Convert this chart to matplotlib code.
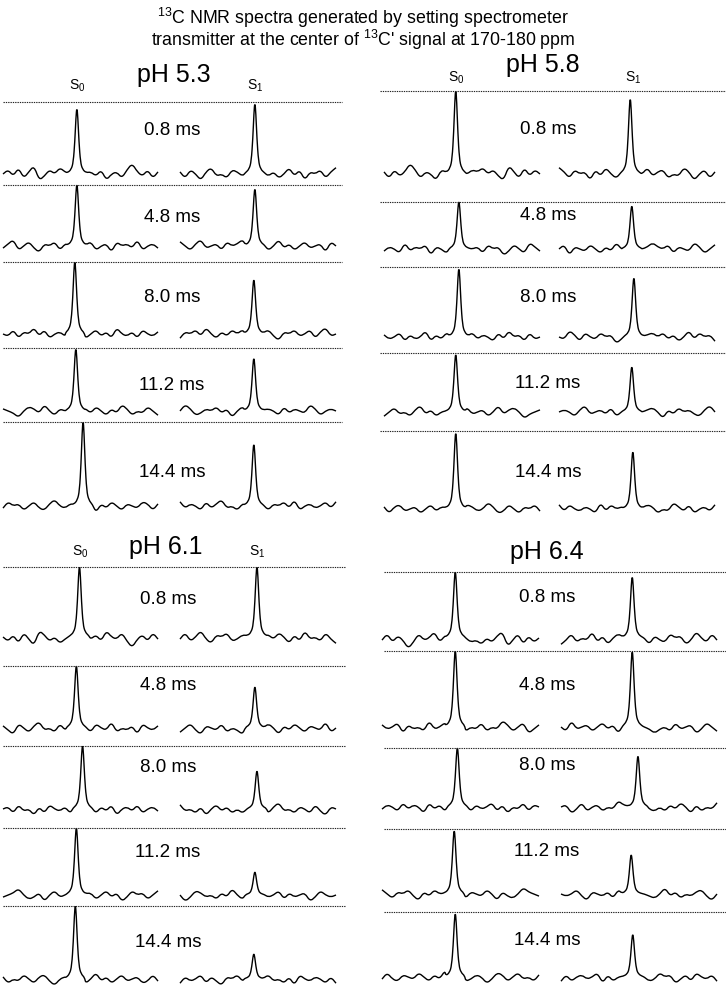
import numpy as np
import matplotlib
matplotlib.use('Agg')
import matplotlib.pyplot as plt
from matplotlib.lines import Line2D
from matplotlib.path import Path
from matplotlib.patches import PathPatch

plt.rcParams['font.family'] = ['Liberation Sans', 'DejaVu Sans']
plt.rcParams['mathtext.fontset'] = 'custom'
plt.rcParams['mathtext.rm'] = 'Liberation Sans'
plt.rcParams['mathtext.it'] = 'Liberation Sans:italic'
plt.rcParams['mathtext.bf'] = 'Liberation Sans:bold'

# ---------------- data ----------------
title_line1 = r"$^{13}$C NMR spectra generated by setting spectrometer"
title_line2 = r"transmitter at the center of $^{13}$C' signal at 170-180 ppm"
delays = ['0.8 ms', '4.8 ms', '8.0 ms', '11.2 ms', '14.4 ms']
ph_labels = ['pH 5.3', 'pH 5.8', 'pH 6.1', 'pH 6.4']
peak_labels = ['S$_0$', 'S$_1$']

# peak heights (relative to the dotted reference line = 1)
s0_height_53 = [0.90, 1.00, 1.00, 0.98, 1.00]
s1_height_53 = [0.97, 0.93, 0.75, 0.83, 0.73]
s0_height_58 = [1.00, 1.00, 0.97, 0.97, 0.97]
s1_height_58 = [0.90, 0.91, 0.84, 0.76, 0.73]
s0_height_61 = [1.00, 1.00, 1.00, 1.00, 1.00]
s1_height_61 = [1.00, 0.66, 0.60, 0.34, 0.34]
s0_height_64 = [1.00, 1.00, 1.00, 0.97, 0.97]
s1_height_64 = [0.92, 0.99, 0.86, 0.60, 0.65]

# peak positions along each trace (0..30 units)
s0_pos_53 = [14.3, 14.3, 13.9, 14.1, 15.5]
s1_pos_53 = [14.4, 14.4, 14.2, 14.2, 14.2]
s0_pos_58 = [13.8, 14.4, 14.4, 13.8, 13.8]
s1_pos_58 = [13.7, 14.0, 14.4, 14.0, 14.2]
s0_pos_61 = [14.8, 14.2, 15.4, 14.2, 14.0]
s1_pos_61 = [14.8, 14.4, 14.8, 14.4, 14.2]
s0_pos_64 = [14.0, 14.0, 14.4, 13.8, 14.0]
s1_pos_64 = [13.7, 13.7, 14.8, 13.5, 13.8]

# line shape of a peak (offsets in trace units, relative intensities)
peak_offsets = [-1.8, -1.1, -0.7, -0.4, -0.18, 0.0, 0.18, 0.4, 0.7, 1.1, 1.8]
peak_profile = [0.02, 0.07, 0.18, 0.50, 0.88, 1.04, 0.88, 0.50, 0.18, 0.07, 0.02]

# baseline noise patterns (31 points each, arbitrary units)
noise_patterns = [
    [0, 2, -1, 3, -2, 1, 4, -3, -1, 2, 0, 3, 1, 2, 0, 0, -2, 1, -1, 2, -3, 0, 1, -2, 2, 5, 1, -1, 2, -2, 1],
    [1, -2, 2, 0, -3, 1, 3, -1, 0, -2, 2, 1, -1, 3, 0, 0, 2, -1, 1, -2, 0, 3, -1, 2, -3, 1, 0, 2, -2, 1, 3],
    [-1, 1, 3, -2, 0, 2, -1, -3, 1, 0, 2, -2, 1, 0, 2, 0, -1, 2, -2, 0, 1, -3, 2, 0, 1, -1, 3, -2, 0, 1, -1],
    [2, 0, -2, 1, 3, -1, 0, 1, -2, 2, 0, 1, 3, 1, 0, 0, 1, -2, 0, 3, -1, 1, -2, 0, 2, -1, 0, 1, -3, 2, 0],
    [0, -1, 2, -2, 1, 0, 3, -1, 2, -2, 0, 1, -1, 2, 1, 0, -2, 0, 2, -1, 1, -2, 3, 0, -1, 1, -2, 2, 0, -1, 1],
    [-2, 1, 0, 2, -1, 3, 0, -2, 1, -1, 2, 0, 2, 1, -1, 0, 0, 2, -1, -3, 1, 0, 2, -1, 0, 2, -2, 1, 3, -1, 0],
    [1, 0, -1, -3, 0, 2, 1, -1, 3, 0, -2, 1, 0, -1, 2, 0, 1, -1, 2, 0, -2, 1, -1, 3, 1, -2, 0, -1, 2, 0, -2],
    [0, 3, 1, -2, -1, 1, 0, 2, -1, 1, -3, 0, 2, 1, 0, 0, -1, 1, 0, -2, 2, -1, 1, 0, -1, 3, 1, -2, 0, 1, 0],
    [-1, 2, 0, 1, -2, 0, 2, -1, -2, 1, 3, 0, -1, 1, 2, 0, 2, 0, -3, 1, -1, 2, 0, -2, 1, 0, -1, 2, 1, -2, 1],
    [2, -1, 1, 0, -2, 2, -1, 1, 3, -1, 0, -2, 1, 2, 0, 0, -1, -2, 1, 0, 2, -1, 3, -2, 0, 1, -1, 0, 2, -1, 2],
]

heights = [(s0_height_53, s1_height_53), (s0_height_58, s1_height_58),
           (s0_height_61, s1_height_61), (s0_height_64, s1_height_64)]
positions = [(s0_pos_53, s1_pos_53), (s0_pos_58, s1_pos_58),
             (s0_pos_61, s1_pos_61), (s0_pos_64, s1_pos_64)]

# ---------------- layout (pixels) ----------------
W, H = 726, 987
NOISE_PX = 2.1  # pixels per noise unit

layout = [
    dict(dotted=[103, 186, 263, 349, 423], base=[175, 247, 335, 412, 507],
         lab_y=[131, 217, 298, 385, 473], lab_x=172, line_x=(3, 342),
         tr=[(3, 158), (180, 336)], title=(174, 75), s_lab_y=86, s_lab_x=(77, 255)),
    dict(dotted=[92, 203, 268, 354, 432], base=[175, 250, 338, 413, 510],
         lab_y=[129, 216, 297, 383, 473], lab_x=548, line_x=(380, 726),
         tr=[(384, 540), (559, 715)], title=(543, 65), s_lab_y=78, s_lab_x=(456, 633)),
    dict(dotted=[568, 667, 747, 829, 907], base=[638, 729, 810, 896, 980],
         lab_y=[599, 685, 767, 853, 943], lab_x=168, line_x=(3, 345),
         tr=[(3, 158), (180, 336)], title=(166, 547), s_lab_y=552, s_lab_x=(80, 257)),
    dict(dotted=[573, 652, 749, 830, 913], base=[639, 728, 808, 895, 978],
         lab_y=[597, 685, 765, 852, 941], lab_x=547, line_x=(384, 726),
         tr=[(382, 539), (561, 717)], title=(547, 552), s_lab_y=None, s_lab_x=None),
]

fig = plt.figure(figsize=(W / 100, H / 100), dpi=100)


def fx(x):
    return x / W


def fy(y):
    return 1 - y / H


def smooth_path(xs, ys):
    """Quadratic B-spline style path through the given vertices."""
    pts = np.column_stack([xs, ys])
    verts = [pts[0], (pts[0] + pts[1]) / 2]
    codes = [Path.MOVETO, Path.LINETO]
    for i in range(1, len(pts) - 1):
        verts += [pts[i], (pts[i] + pts[i + 1]) / 2]
        codes += [Path.CURVE3, Path.CURVE3]
    verts.append(pts[-1])
    codes.append(Path.LINETO)
    return Path(np.array(verts), codes)


fig.text(fx(363), fy(18), title_line1, ha='center', va='center', fontsize=12.8)
fig.text(fx(363), fy(40), title_line2, ha='center', va='center', fontsize=12.8)

trace_idx = 0
for p, L in enumerate(layout):
    fig.text(fx(L['title'][0]), fy(L['title'][1]), ph_labels[p], ha='center',
             va='center', fontsize=18)
    if L['s_lab_x'] is not None:
        for k in range(2):
            fig.text(fx(L['s_lab_x'][k]), fy(L['s_lab_y']), peak_labels[k],
                     ha='center', va='center', fontsize=10)
    for r in range(len(delays)):
        top = L['dotted'][r]
        base = L['base'][r]
        scale = base - top  # px per intensity unit
        fig.add_artist(Line2D([fx(L['line_x'][0]), fx(L['line_x'][1])], [fy(top), fy(top)],
                              transform=fig.transFigure, color='#222222', lw=0.8,
                              linestyle=(0, (1.2, 0.9))))
        fig.text(fx(L['lab_x']), fy(L['lab_y'][r]), delays[r], ha='center',
                 va='center', fontsize=13.5)
        margin = 0.2
        bottom_px = base + margin * scale
        for k in range(2):
            x0, x1 = L['tr'][k]
            ax = fig.add_axes([fx(x0), fy(bottom_px), (x1 - x0) / W, (bottom_px - top) / H])
            ax.set_xlim(0, 30)
            ax.set_ylim(-margin, 1.0)
            ax.axis('off')
            pat = list(noise_patterns[trace_idx % 10])
            if (trace_idx // 10) % 2 == 1:
                pat = pat[::-1]
            if (trace_idx // 20) % 2 == 1:
                pat = [-v for v in pat]
            trace_idx += 1
            center = positions[p][k][r]
            h = heights[p][k][r]
            xs = []
            ys = []
            for i, v in enumerate(pat):
                if abs(i - center) > 1.9:
                    xs.append(i)
                    ys.append(v * NOISE_PX / scale)
            for o, v in zip(peak_offsets, peak_profile):
                xs.append(center + o)
                ys.append(v * h)
            order = np.argsort(xs)
            xs = np.array(xs, dtype=float)[order]
            ys = np.array(ys, dtype=float)[order]
            patch = PathPatch(smooth_path(xs, ys), facecolor='none', edgecolor='black',
                              lw=1.0, clip_on=False, joinstyle='round')
            ax.add_patch(patch)

fig.savefig('out.png', dpi=100)
